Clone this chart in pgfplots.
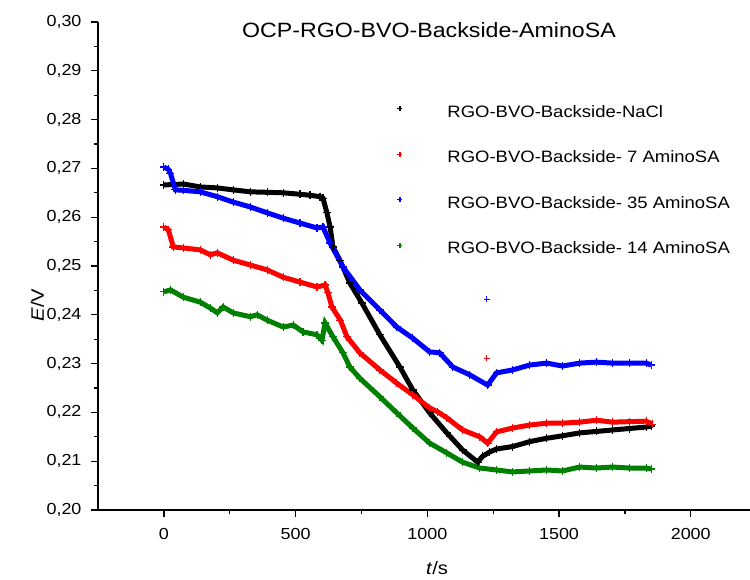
\documentclass[border=0pt]{standalone}
\usepackage{fontspec}
\setmainfont{Liberation Sans}[FakeStretch=1.12]
\usepackage{pgfplots}
\usepackage{pgfplotstable}
\pgfplotsset{compat=1.18}

\pgfplotstableread{
x y
0 0.2666
74 0.2668
138 0.2662
203 0.2660
263 0.2656
328 0.2652
392 0.2651
453 0.2650
517 0.2647
555 0.2645
593 0.2642
604 0.2639
619 0.2609
631 0.2580
642 0.2539
668 0.2512
706 0.2465
752 0.2424
820 0.2359
896 0.2293
945 0.2246
1009 0.2199
1074 0.2158
1134 0.2123
1191 0.2098
1210 0.2110
1237 0.2119
1263 0.2125
1324 0.2130
1388 0.2140
1453 0.2147
1513 0.2152
1578 0.2158
1642 0.2161
1703 0.2164
1767 0.2167
1831 0.2170
1850 0.2172
}\blackdata

\pgfplotstableread{
x y
0 0.2580
17 0.2574
36 0.2539
74 0.2537
138 0.2533
176 0.2523
203 0.2527
263 0.2512
328 0.2502
392 0.2492
453 0.2477
517 0.2467
581 0.2457
612 0.2461
623 0.2445
638 0.2416
670 0.2389
695 0.2355
744 0.2322
820 0.2287
884 0.2260
945 0.2236
1009 0.2209
1040 0.2201
1074 0.2189
1134 0.2164
1199 0.2150
1229 0.2137
1263 0.2160
1324 0.2168
1388 0.2174
1453 0.2178
1513 0.2178
1578 0.2180
1642 0.2184
1703 0.2180
1767 0.2181
1831 0.2182
1854 0.2176
}\reddata

\pgfplotstableread{
x y
0 0.2703
17 0.2698
25 0.2690
44 0.2656
74 0.2655
138 0.2652
203 0.2642
263 0.2631
328 0.2621
392 0.2609
453 0.2598
517 0.2588
581 0.2578
604 0.2580
631 0.2547
680 0.2498
744 0.2451
820 0.2410
884 0.2375
945 0.2352
1009 0.2324
1047 0.2322
1097 0.2293
1161 0.2277
1229 0.2256
1263 0.2281
1324 0.2287
1388 0.2297
1453 0.2301
1513 0.2295
1578 0.2301
1642 0.2303
1703 0.2301
1767 0.2301
1831 0.2301
1850 0.2297
}\bluedata

\pgfplotstableread{
x y
0 0.2447
25 0.2451
74 0.2436
138 0.2426
176 0.2414
203 0.2404
225 0.2416
263 0.2404
328 0.2396
354 0.2400
392 0.2389
453 0.2375
491 0.2379
528 0.2365
581 0.2359
600 0.2348
612 0.2383
642 0.2355
680 0.2322
706 0.2293
744 0.2270
820 0.2232
884 0.2199
945 0.2168
1009 0.2137
1074 0.2117
1134 0.2098
1199 0.2086
1263 0.2082
1324 0.2078
1388 0.2080
1453 0.2082
1513 0.2080
1578 0.2088
1642 0.2086
1703 0.2088
1767 0.2086
1831 0.2086
1850 0.2084
}\greendata

\definecolor{ogreen}{RGB}{0,128,0}

\begin{document}
\begin{tikzpicture}[x=1pt,y=1pt]
\path[use as bounding box] (0,0) rectangle (750,579);
\begin{axis}[
  at={(98pt,69pt)}, anchor=south west,
  scale only axis, width=652pt, height=488pt,
  xmin=-250, xmax=2225, ymin=0.20, ymax=0.30,
  axis x line=bottom, axis y line=left,
  axis line style={-, line width=1.3pt},
  xtick={0,500,1000,1500,2000}, minor x tick num=1,
  ytick={0.20,0.21,0.22,0.23,0.24,0.25,0.26,0.27,0.28,0.29,0.30}, minor y tick num=1,
  tick align=outside, major tick length=7pt, minor tick length=4pt,
  every tick/.style={black, line width=1.3pt},
  tick label style={font=\fontsize{16}{19}\selectfont},
  /pgf/number format/assume math mode=true,
  yticklabel style={xshift=-6pt, /pgf/number format/.cd, fixed, fixed zerofill, precision=2, use comma},
  xticklabel style={yshift=-8pt, /pgf/number format/1000 sep={}},
  xlabel={\textit{t}/s}, ylabel={\textit{E}/V},
  label style={font=\fontsize{18}{21}\selectfont},
  xlabel style={at={(axis description cs:0.52,-0.119)}, anchor=center},
  ylabel style={at={(axis description cs:-0.093,0.42)}, anchor=center},
  legend style={at={(axis description cs:0.459,0.83)}, anchor=north west,
    draw=none, fill=none, inner sep=0pt, row sep=32pt,
    nodes={inner sep=0pt}, font=\fontsize{16.5}{19.5}\selectfont},
  legend cell align=left,
  legend image code/.code={%
    \path (0pt,-2pt) (45pt,2pt);
    \draw[#1, only marks, mark=+, mark size=2.5pt, line width=0.6pt] plot coordinates {(0pt,3pt)};},
  clip=false,
]
\addplot[black, line width=5pt, mark=+, mark size=4pt, mark options={line width=1.2pt}] table {\blackdata};
\addlegendentry{RGO-BVO-Backside-NaCl}
\addplot[red, line width=5pt, mark=+, mark size=4pt, mark options={line width=1.2pt}] table {\reddata};
\addlegendentry{RGO-BVO-Backside- 7 AminoSA}
\addplot[blue, line width=5pt, mark=+, mark size=4pt, mark options={line width=1.2pt}] table {\bluedata};
\addlegendentry{RGO-BVO-Backside- 35 AminoSA}
\addplot[ogreen, line width=5pt, mark=+, mark size=4pt, mark options={line width=1.2pt}] table {\greendata};
\addlegendentry{RGO-BVO-Backside- 14 AminoSA}
\addplot[blue, only marks, mark=+, mark size=3pt, line width=0.8pt, forget plot] coordinates {(1226,0.2432)};
\addplot[red, only marks, mark=+, mark size=3pt, line width=0.8pt, forget plot] coordinates {(1226,0.2311)};
\addplot[ogreen!70!black, only marks, mark=+, mark size=3pt, line width=0.8pt, forget plot] coordinates {(1852,0.2297)};
\end{axis}
\node[font=\fontsize{20.7}{24}\selectfont] at (429,549) {OCP-RGO-BVO-Backside-AminoSA};
\end{tikzpicture}
\end{document}
